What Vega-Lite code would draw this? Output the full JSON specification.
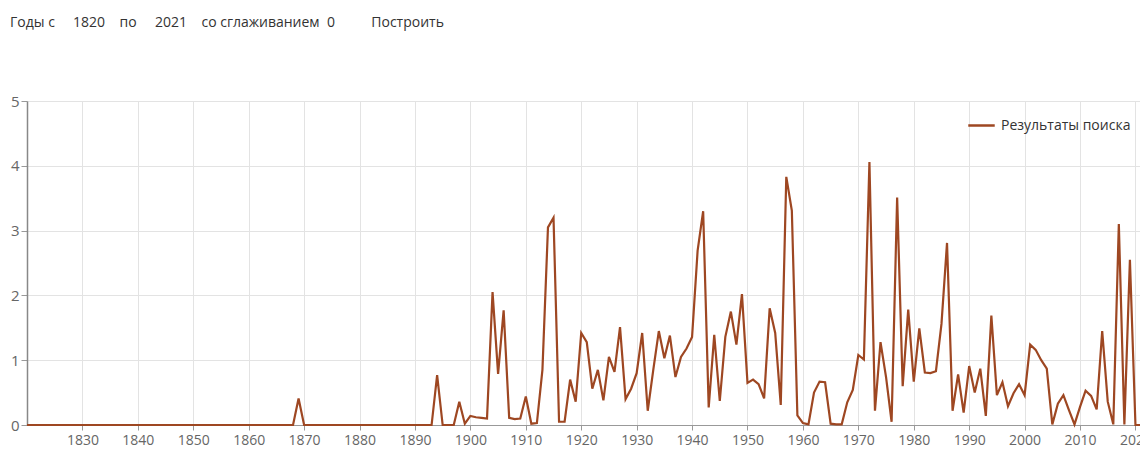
{
  "$schema": "https://vega.github.io/schema/vega-lite/v6.json",
  "width": 1114,
  "height": 324,
  "autosize": {"type": "none"},
  "padding": {"left": 27, "top": 101, "right": 0, "bottom": 25},
  "background": "white",
  "config": {
    "font": "Open Sans",
    "view": {"stroke": null}
  },
  "title": {
    "text": "Годы с\u00a0\u00a0\u00a0\u00a0 1820 \u00a0\u00a0\u00a0по\u00a0\u00a0\u00a0\u00a0 2021 \u00a0\u00a0\u00a0со сглаживанием\u00a0 0\u00a0\u00a0\u00a0\u00a0\u00a0\u00a0\u00a0\u00a0\u00a0 Построить",
    "anchor": "start",
    "frame": "group",
    "orient": "top",
    "offset": 64,
    "dx": -17,
    "fontSize": 14,
    "fontWeight": "normal",
    "color": "#333333",
    "font": "Open Sans"
  },
  "data": {
    "values": [
      {"year":1820,"value":0},{"year":1821,"value":0},{"year":1822,"value":0},{"year":1823,"value":0},{"year":1824,"value":0},
      {"year":1825,"value":0},{"year":1826,"value":0},{"year":1827,"value":0},{"year":1828,"value":0},{"year":1829,"value":0},
      {"year":1830,"value":0},{"year":1831,"value":0},{"year":1832,"value":0},{"year":1833,"value":0},{"year":1834,"value":0},
      {"year":1835,"value":0},{"year":1836,"value":0},{"year":1837,"value":0},{"year":1838,"value":0},{"year":1839,"value":0},
      {"year":1840,"value":0},{"year":1841,"value":0},{"year":1842,"value":0},{"year":1843,"value":0},{"year":1844,"value":0},
      {"year":1845,"value":0},{"year":1846,"value":0},{"year":1847,"value":0},{"year":1848,"value":0},{"year":1849,"value":0},
      {"year":1850,"value":0},{"year":1851,"value":0},{"year":1852,"value":0},{"year":1853,"value":0},{"year":1854,"value":0},
      {"year":1855,"value":0},{"year":1856,"value":0},{"year":1857,"value":0},{"year":1858,"value":0},{"year":1859,"value":0},
      {"year":1860,"value":0},{"year":1861,"value":0},{"year":1862,"value":0},{"year":1863,"value":0},{"year":1864,"value":0},
      {"year":1865,"value":0},{"year":1866,"value":0},{"year":1867,"value":0},{"year":1868,"value":0},{"year":1869,"value":0.41},
      {"year":1870,"value":0},{"year":1871,"value":0},{"year":1872,"value":0},{"year":1873,"value":0},{"year":1874,"value":0},
      {"year":1875,"value":0},{"year":1876,"value":0},{"year":1877,"value":0},{"year":1878,"value":0},{"year":1879,"value":0},
      {"year":1880,"value":0},{"year":1881,"value":0},{"year":1882,"value":0},{"year":1883,"value":0},{"year":1884,"value":0},
      {"year":1885,"value":0},{"year":1886,"value":0},{"year":1887,"value":0},{"year":1888,"value":0},{"year":1889,"value":0},
      {"year":1890,"value":0},{"year":1891,"value":0},{"year":1892,"value":0},{"year":1893,"value":0},{"year":1894,"value":0.77},
      {"year":1895,"value":0},{"year":1896,"value":0},{"year":1897,"value":0},{"year":1898,"value":0.36},{"year":1899,"value":0.02},
      {"year":1900,"value":0.14},{"year":1901,"value":0.12},{"year":1902,"value":0.11},{"year":1903,"value":0.1},{"year":1904,"value":2.05},
      {"year":1905,"value":0.79},{"year":1906,"value":1.77},{"year":1907,"value":0.11},{"year":1908,"value":0.09},{"year":1909,"value":0.1},
      {"year":1910,"value":0.44},{"year":1911,"value":0.02},{"year":1912,"value":0.03},{"year":1913,"value":0.85},{"year":1914,"value":3.05},
      {"year":1915,"value":3.2},{"year":1916,"value":0.05},{"year":1917,"value":0.05},{"year":1918,"value":0.7},{"year":1919,"value":0.36},
      {"year":1920,"value":1.42},{"year":1921,"value":1.28},{"year":1922,"value":0.56},{"year":1923,"value":0.85},{"year":1924,"value":0.38},
      {"year":1925,"value":1.05},{"year":1926,"value":0.82},{"year":1927,"value":1.51},{"year":1928,"value":0.4},{"year":1929,"value":0.56},
      {"year":1930,"value":0.8},{"year":1931,"value":1.42},{"year":1932,"value":0.22},{"year":1933,"value":0.85},{"year":1934,"value":1.45},
      {"year":1935,"value":1.03},{"year":1936,"value":1.38},{"year":1937,"value":0.74},{"year":1938,"value":1.05},{"year":1939,"value":1.18},
      {"year":1940,"value":1.36},{"year":1941,"value":2.69},{"year":1942,"value":3.3},{"year":1943,"value":0.27},{"year":1944,"value":1.39},
      {"year":1945,"value":0.37},{"year":1946,"value":1.36},{"year":1947,"value":1.75},{"year":1948,"value":1.24},{"year":1949,"value":2.02},
      {"year":1950,"value":0.65},{"year":1951,"value":0.7},{"year":1952,"value":0.63},{"year":1953,"value":0.41},{"year":1954,"value":1.8},
      {"year":1955,"value":1.42},{"year":1956,"value":0.31},{"year":1957,"value":3.83},{"year":1958,"value":3.31},{"year":1959,"value":0.15},
      {"year":1960,"value":0.03},{"year":1961,"value":0.01},{"year":1962,"value":0.5},{"year":1963,"value":0.67},{"year":1964,"value":0.66},
      {"year":1965,"value":0.02},{"year":1966,"value":0.01},{"year":1967,"value":0.01},{"year":1968,"value":0.35},{"year":1969,"value":0.54},
      {"year":1970,"value":1.08},{"year":1971,"value":1.01},{"year":1972,"value":4.06},{"year":1973,"value":0.22},{"year":1974,"value":1.28},
      {"year":1975,"value":0.74},{"year":1976,"value":0.05},{"year":1977,"value":3.51},{"year":1978,"value":0.6},{"year":1979,"value":1.78},
      {"year":1980,"value":0.67},{"year":1981,"value":1.49},{"year":1982,"value":0.81},{"year":1983,"value":0.8},{"year":1984,"value":0.83},
      {"year":1985,"value":1.56},{"year":1986,"value":2.81},{"year":1987,"value":0.22},{"year":1988,"value":0.78},{"year":1989,"value":0.19},
      {"year":1990,"value":0.91},{"year":1991,"value":0.5},{"year":1992,"value":0.87},{"year":1993,"value":0.14},{"year":1994,"value":1.69},
      {"year":1995,"value":0.46},{"year":1996,"value":0.66},{"year":1997,"value":0.29},{"year":1998,"value":0.49},{"year":1999,"value":0.63},
      {"year":2000,"value":0.46},{"year":2001,"value":1.24},{"year":2002,"value":1.16},{"year":2003,"value":1.0},{"year":2004,"value":0.87},
      {"year":2005,"value":0.01},{"year":2006,"value":0.33},{"year":2007,"value":0.46},{"year":2008,"value":0.23},{"year":2009,"value":0.01},
      {"year":2010,"value":0.28},{"year":2011,"value":0.53},{"year":2012,"value":0.45},{"year":2013,"value":0.24},{"year":2014,"value":1.45},
      {"year":2015,"value":0.36},{"year":2016,"value":0.01},{"year":2017,"value":3.1},{"year":2018,"value":0.01},{"year":2019,"value":2.55},
      {"year":2020,"value":0},{"year":2021,"value":0}
    ]
  },
  "mark": {"type": "line", "strokeWidth": 2.2, "interpolate": "linear"},
  "encoding": {
    "x": {
      "field": "year",
      "type": "quantitative",
      "scale": {"domain": [1820, 2021], "nice": false, "zero": false},
      "axis": {
        "title": null,
        "values": [1830,1840,1850,1860,1870,1880,1890,1900,1910,1920,1930,1940,1950,1960,1970,1980,1990,2000,2010,2020],
        "format": "d",
        "labelFontSize": 14,
        "labelColor": "#666666",
        "labelFont": "Open Sans",
        "labelPadding": 3,
        "tickSize": 5,
        "tickColor": "#999999",
        "domain": true,
        "domainColor": "#999999",
        "grid": true,
        "gridColor": "#e3e3e3",
        "labelFlush": false,
        "labelOverlap": false
      }
    },
    "y": {
      "field": "value",
      "type": "quantitative",
      "scale": {"domain": [0, 5], "nice": false},
      "axis": {
        "title": null,
        "values": [0,1,2,3,4,5],
        "labelFontSize": 15,
        "labelColor": "#666666",
        "labelFont": "Open Sans",
        "labelPadding": 2,
        "tickSize": 6,
        "tickColor": "#999999",
        "domainColor": "#888888",
        "domainWidth": 1.5,
        "grid": true,
        "gridColor": "#e3e3e3",
        "labelFlush": false
      }
    },
    "color": {
      "datum": "Результаты поиска",
      "type": "nominal",
      "scale": {"domain": ["Результаты поиска"], "range": ["#9e4722"]},
      "legend": {
        "title": null,
        "orient": "top-right",
        "offset": 10,
        "symbolType": "stroke",
        "symbolStrokeWidth": 2.5,
        "symbolSize": 700,
        "labelFontSize": 14,
        "labelColor": "#333333",
        "labelFont": "Open Sans",
        "labelOffset": 5
      }
    }
  }
}
